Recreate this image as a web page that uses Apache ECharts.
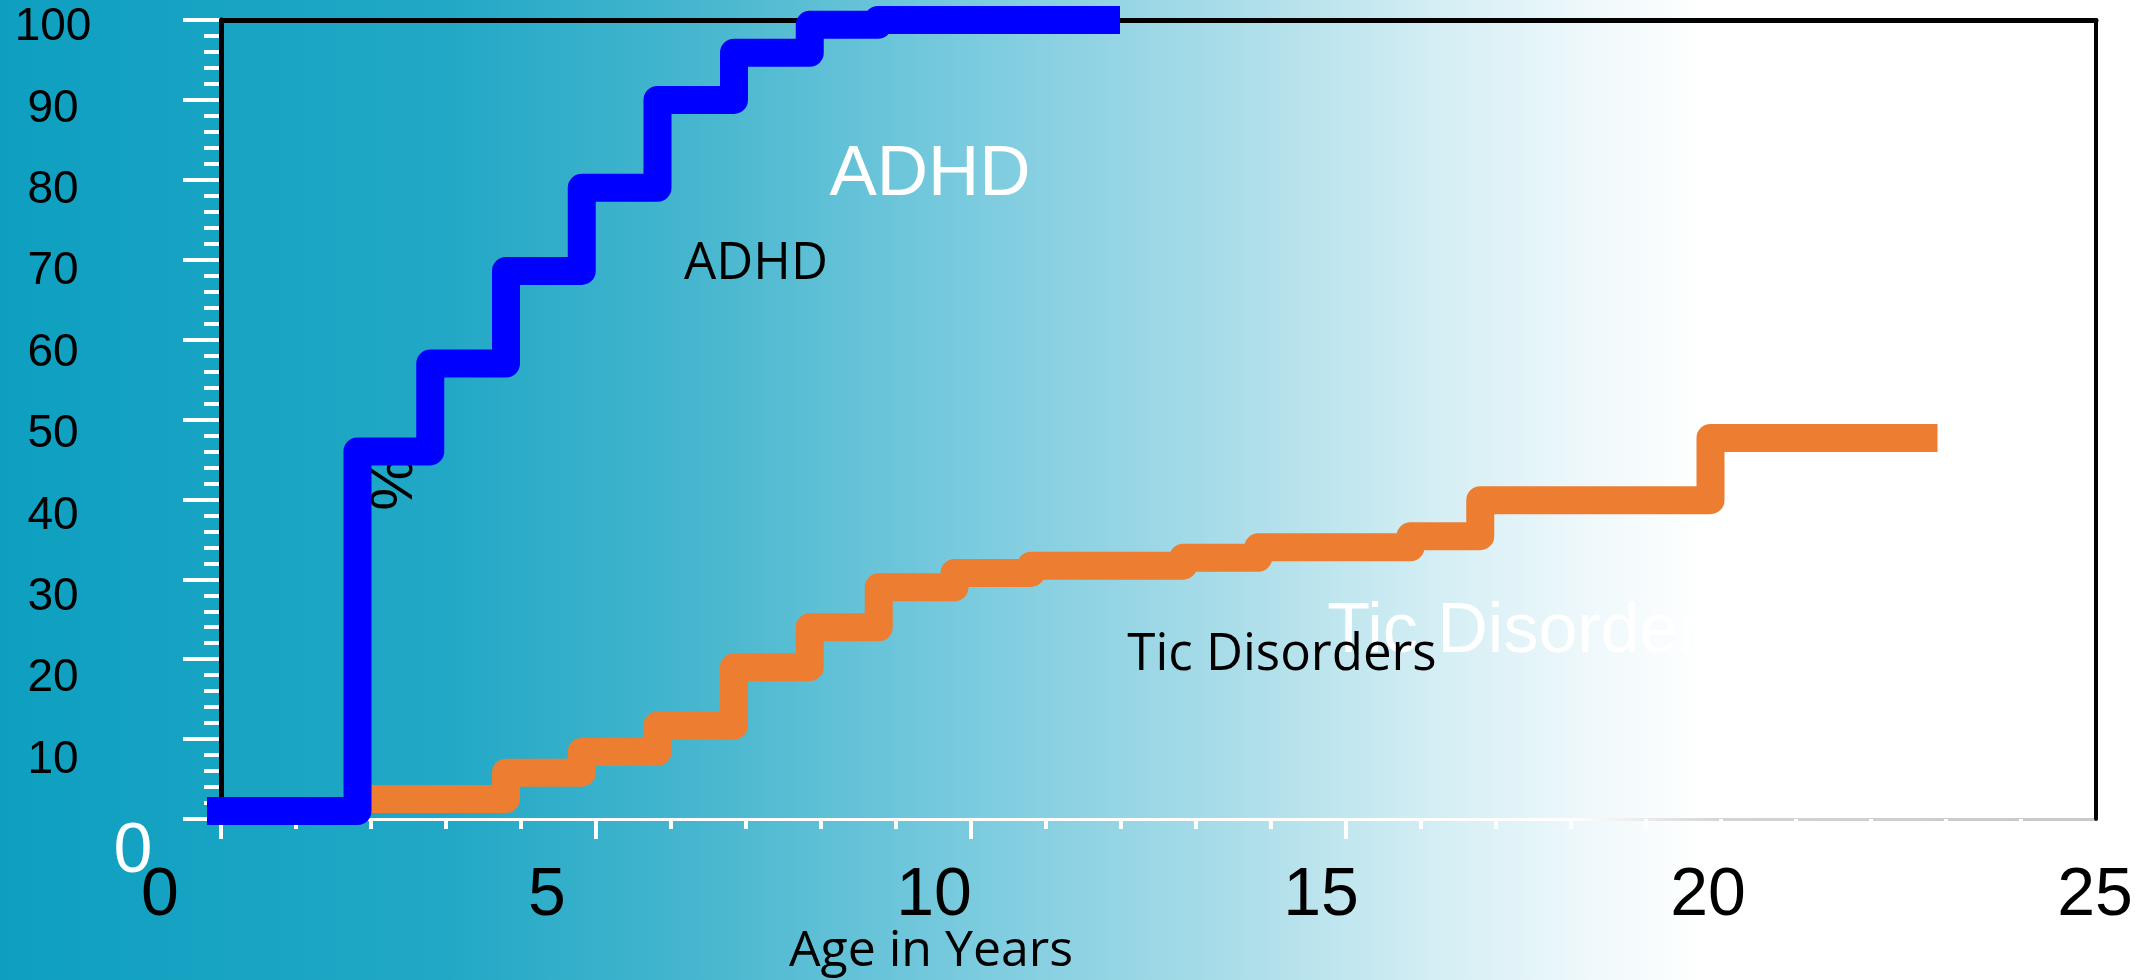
<!DOCTYPE html>
<html>
<head>
<meta charset="utf-8">
<script src="https://cdn.jsdelivr.net/npm/echarts@6/dist/echarts.min.js"></script>
<style>
  html, body { margin: 0; padding: 0; }
  #chart { width: 2141px; height: 980px; }
</style>
</head>
<body>
<div id="chart"></div>
<script>
// Axis ticks
const xTicks = [0, 5, 10, 15, 20, 25];
const yTicks = [0, 10, 20, 30, 40, 50, 60, 70, 80, 90, 100];

// Cumulative onset (%) by age, step series
const adhdAge = [0, 1.82, 2.79, 3.8, 4.81, 5.82, 6.84, 7.85, 8.76, 11.8];
const adhdPct = [1, 46, 57, 68.6, 79, 90, 95.9, 99.4, 100, 100];

const ticAge = [1.82, 3.8, 4.81, 5.82, 6.84, 7.85, 8.77, 9.78, 10.8, 12.83, 13.83, 15.86, 16.79, 19.86, 22.7];
const ticPct = [2.5, 5.8, 8.4, 11.7, 19, 24, 29, 30.8, 31.7, 32.7, 34, 35.4, 39.9, 47.7, 47.7];

const seriesNames = ['ADHD', 'Tic Disorders'];
const xTitle = 'Age in Years';
const yTitle = '%';

const zip = (xs, ys) => xs.map((x, i) => [x, ys[i]]);

const xMin = xTicks[0], xMax = xTicks[xTicks.length - 1], xStep = xTicks[1] - xTicks[0];
const yMin = yTicks[0], yMax = yTicks[yTicks.length - 1], yStep = yTicks[1] - yTicks[0];

const ARIAL = '"Liberation Sans", Arial, sans-serif';
const SANS = '"Open Sans", "Noto Sans", sans-serif';

const hidden = { show: false };
// invisible companion axis so every grid has both an x and a y axis
const blankAxis = (gridIndex) => ({
  gridIndex, type: 'value', min: 0, max: 1, show: false,
  axisLine: { show: false, onZero: false }, axisTick: hidden, axisLabel: hidden, splitLine: hidden
});

const centeredText = (text, x, y, fill, font, extra) => Object.assign({
  type: 'text', x, y, z: 1,
  style: { text, fill, font, align: 'center', verticalAlign: 'middle',
           textAlign: 'center', textVerticalAlign: 'middle' }
}, extra || {});

const option = {
  animation: false,
  backgroundColor: {
    type: 'linear', x: 0, y: 0, x2: 1, y2: 0,
    colorStops: [
      { offset: 0.00, color: '#0E9FC0' },
      { offset: 0.21, color: '#22A8C6' },
      { offset: 0.33, color: '#48B7CF' },
      { offset: 0.467, color: '#80CDE0' },
      { offset: 0.57, color: '#A8DCE8' },
      { offset: 0.67, color: '#D3EEF4' },
      { offset: 0.74, color: '#EEF8FB' },
      { offset: 0.797, color: '#FFFFFF' },
      { offset: 1.00, color: '#FFFFFF' }
    ]
  },
  grid: [
    { left: 221, top: 20, width: 1875, height: 799 },      // plot
    { left: 160, top: 850, width: 1935, height: 10 },      // age labels row
    { left: 100, top: 27.5, width: 10, height: 813.9 }     // percent labels column
  ],
  xAxis: [
    {
      gridIndex: 0, type: 'value', min: xMin, max: xMax, interval: xStep,
      position: 'bottom',
      axisLine: { show: true, onZero: false, lineStyle: {
        width: 3,
        color: { type: 'linear', x: 0, y: 0, x2: 1, y2: 0, colorStops: [
          { offset: 0, color: '#ffffff' }, { offset: 0.72, color: '#ffffff' },
          { offset: 0.8, color: '#d4d4d4' }, { offset: 1, color: '#c8c8c8' }
        ] }
      } },
      axisTick: { show: true, length: 20, lineStyle: { color: '#ffffff', width: 4 } },
      minorTick: { show: true, splitNumber: 5, length: 10, lineStyle: { color: '#ffffff', width: 4 } },
      axisLabel: hidden, splitLine: hidden, minorSplitLine: hidden
    },
    {
      gridIndex: 0, type: 'value', min: xMin, max: xMax, position: 'top',
      axisLine: { show: true, onZero: false, lineStyle: { color: '#000000', width: 5 } },
      axisTick: hidden, axisLabel: hidden, splitLine: hidden
    },
    {
      gridIndex: 1, type: 'value', min: xMin, max: xMax, interval: xStep, position: 'top',
      axisLine: { show: false, onZero: false }, axisTick: hidden, splitLine: hidden,
      axisLabel: {
        show: true, margin: -46, color: '#000000', fontSize: 68, fontFamily: ARIAL,
        verticalAlign: 'middle', showMinLabel: true, showMaxLabel: true,
        formatter: v => String(v)
      }
    },
    blankAxis(2)
  ],
  yAxis: [
    {
      gridIndex: 0, type: 'value', min: yMin, max: yMax, interval: yStep, position: 'left', z: 0,
      axisLine: { show: false, onZero: false },
      axisTick: { show: true, length: 38, lineStyle: { color: '#ffffff', width: 4 } },
      minorTick: { show: true, splitNumber: 5, length: 17, lineStyle: { color: '#ffffff', width: 4 } },
      axisLabel: hidden, splitLine: hidden, minorSplitLine: hidden
    },
    {
      gridIndex: 0, type: 'value', min: yMin, max: yMax, position: 'left', z: 1,
      axisLine: { show: true, onZero: false, lineStyle: { color: '#000000', width: 5 } },
      axisTick: hidden, axisLabel: hidden, splitLine: hidden
    },
    {
      gridIndex: 0, type: 'value', min: yMin, max: yMax, position: 'right', z: 1,
      axisLine: { show: true, onZero: false, lineStyle: { color: '#000000', width: 4 } },
      axisTick: hidden, axisLabel: hidden, splitLine: hidden
    },
    {
      gridIndex: 2, type: 'value', min: yMin, max: yMax, interval: yStep, position: 'left',
      axisLine: { show: false, onZero: false }, axisTick: hidden, splitLine: hidden,
      axisLabel: {
        show: true, margin: 47, align: 'center', verticalAlign: 'middle',
        color: '#000000', fontSize: 46, fontFamily: ARIAL,
        showMinLabel: true, showMaxLabel: true,
        formatter: v => v === yMin ? '{zero|' + v + '}' : '{n|' + v + '}',
        rich: {
          n: { color: '#000000', fontSize: 46, fontFamily: ARIAL },
          zero: { color: '#ffffff', fontSize: 70, fontFamily: ARIAL, padding: [22, 0, 0, 160] }
        }
      }
    },
    blankAxis(1)
  ],
  series: [
    {
      name: seriesNames[1], type: 'line', step: 'end',
      xAxisIndex: 0, yAxisIndex: 0, clip: false, showSymbol: false, symbol: 'none',
      data: zip(ticAge, ticPct),
      lineStyle: { color: '#ED7D31', width: 28, cap: 'square', join: 'round' },
      z: 2
    },
    {
      name: seriesNames[0], type: 'line', step: 'end',
      xAxisIndex: 0, yAxisIndex: 0, clip: false, showSymbol: false, symbol: 'none',
      data: zip(adhdAge, adhdPct),
      lineStyle: { color: '#0000FF', width: 28, cap: 'square', join: 'round' },
      z: 3
    }
  ],
  graphic: [
    centeredText(yTitle, 395, 484, '#000000', '60px ' + ARIAL, { rotation: Math.PI / 2, z: 0 }),
    centeredText(seriesNames[0], 930, 175, '#ffffff', '71px ' + ARIAL),
    centeredText(seriesNames[0], 756, 264, '#000000', '51px ' + SANS),
    centeredText(seriesNames[1], 1532, 633, '#ffffff', '70px ' + ARIAL),
    centeredText(seriesNames[1], 1282, 655, '#000000', '51px ' + SANS),
    centeredText(xTitle, 931, 952, '#000000', '50px ' + SANS)
  ]
};

const chart = echarts.init(document.getElementById('chart'));
chart.setOption(option);
</script>
</body>
</html>
